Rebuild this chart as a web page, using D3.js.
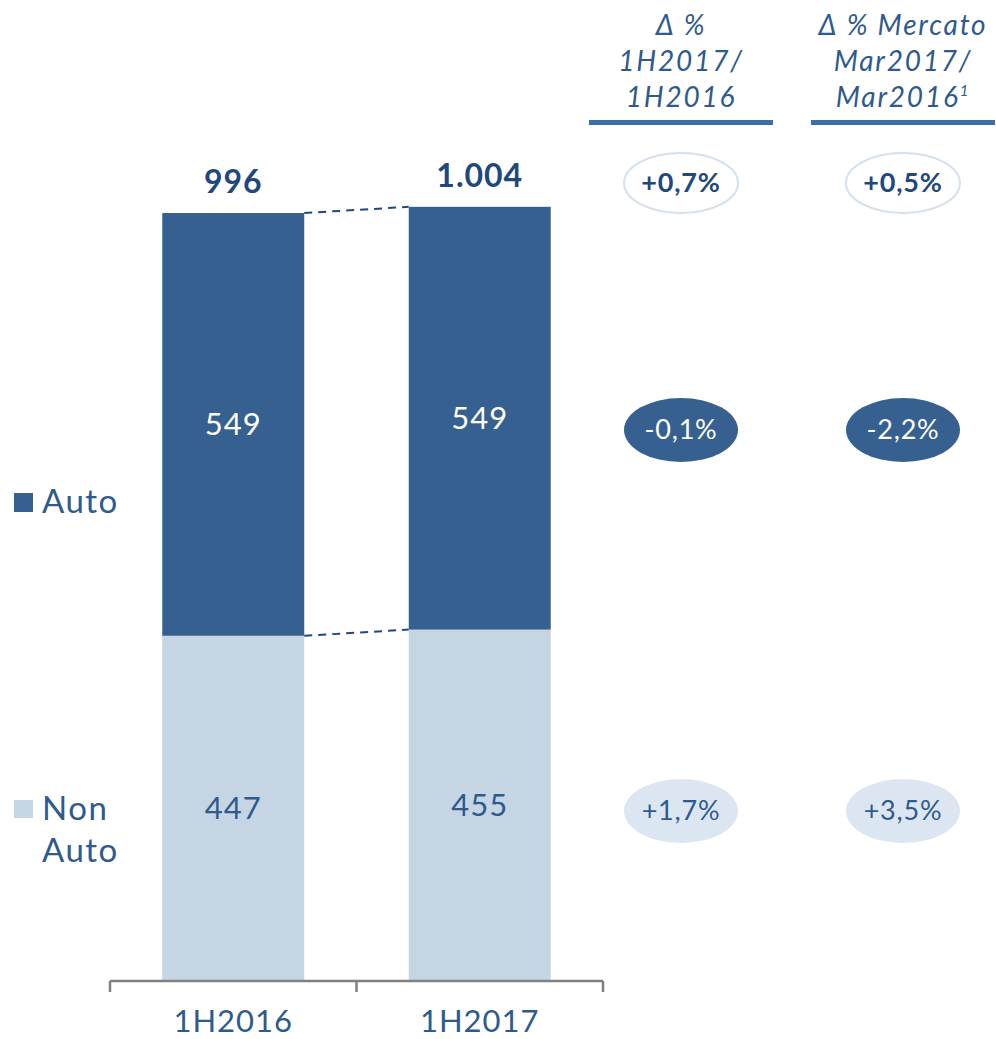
<!DOCTYPE html>
<html><head><meta charset="utf-8">
<script src="https://cdn.jsdelivr.net/npm/d3@7"></script>
<style>body{margin:0;background:#fff}svg{display:block}</style>
</head><body>
<svg id="c" width="996" height="1039"></svg>
<script>
const categories = ["1H2016", "1H2017"];
const autoValues = [549, 549];
const nonAutoValues = [447, 455];
const totalLabels = ["996", "1.004"];
const seriesNames = ["Auto", "Non Auto"];
const headers = [["Δ %", "1H2017/", "1H2016"], ["Δ % Mercato", "Mar2017/", "Mar2016"]];
const deltaTotal = ["+0,7%", "+0,5%"];
const deltaAuto = ["-0,1%", "-2,2%"];
const deltaNonAuto = ["+1,7%", "+3,5%"];

const FONT = "Lato, 'Open Sans', sans-serif";
const DARK = "#36608f", LIGHT = "#c6d5e4", NAVY = "#1f497d", TXT = "#2f5a8c";
const svg = d3.select("#c");

const x = d3.scaleBand().domain(categories).range([110, 603]).paddingInner(0.424).paddingOuter(0.212);
const y = d3.scaleLinear().domain([0, 996]).range([980, 213]);

const data = categories.map((c, i) => ({c, auto: autoValues[i], non: nonAutoValues[i], total: autoValues[i] + nonAutoValues[i], label: totalLabels[i]}));

// bars
const g = svg.append("g");
g.selectAll("rect.non").data(data).join("rect")
  .attr("x", d => x(d.c)).attr("width", x.bandwidth())
  .attr("y", d => y(d.non)).attr("height", d => y(0) - y(d.non)).attr("fill", LIGHT);
g.selectAll("rect.auto").data(data).join("rect")
  .attr("x", d => x(d.c)).attr("width", x.bandwidth())
  .attr("y", d => y(d.total)).attr("height", d => y(d.non) - y(d.total)).attr("fill", DARK);

// connectors
[d => d.total, d => d.non].forEach(acc => {
  g.append("line")
    .attr("x1", x(categories[0]) + x.bandwidth()).attr("y1", y(acc(data[0])))
    .attr("x2", x(categories[1])).attr("y2", y(acc(data[1])))
    .attr("stroke", NAVY).attr("stroke-width", 2).attr("stroke-dasharray", "8,6");
});

// labels
g.selectAll("text.tot").data(data).join("text")
  .attr("x", d => x(d.c) + x.bandwidth() / 2).attr("y", d => y(d.total) - 20)
  .attr("text-anchor", "middle").attr("font-family", FONT).attr("font-weight", "bold")
  .attr("font-size", 32).attr("letter-spacing", 1).attr("fill", NAVY).text(d => d.label);
g.selectAll("text.a").data(data).join("text")
  .attr("x", d => x(d.c) + x.bandwidth() / 2).attr("y", d => (y(d.total) + y(d.non)) / 2)
  .attr("dy", "0.35em").attr("text-anchor", "middle").attr("font-family", FONT)
  .attr("font-size", 31).attr("letter-spacing", 1).attr("fill", "#fff").text(d => d.auto);
g.selectAll("text.n").data(data).join("text")
  .attr("x", d => x(d.c) + x.bandwidth() / 2).attr("y", d => (y(d.non) + y(0)) / 2)
  .attr("dy", "0.35em").attr("text-anchor", "middle").attr("font-family", FONT)
  .attr("font-size", 31).attr("letter-spacing", 1).attr("fill", TXT).text(d => d.non);

// axis
const ax = svg.append("g").attr("stroke", "#808080").attr("stroke-width", 2.5).attr("fill", "none");
ax.append("line").attr("x1", 110).attr("x2", 603).attr("y1", 981).attr("y2", 981);
const tickXs = [110, x(categories[1]) - x.step() * x.paddingInner() / 2, 603];
tickXs.forEach(t => ax.append("line").attr("x1", t).attr("x2", t).attr("y1", 981).attr("y2", 992));
svg.selectAll("text.cat").data(categories).join("text")
  .attr("x", d => x(d) + x.bandwidth() / 2).attr("y", 1032).attr("text-anchor", "middle")
  .attr("font-family", FONT).attr("font-size", 31).attr("letter-spacing", 1).attr("fill", TXT).text(d => d);

// legend
svg.append("rect").attr("x", 14).attr("y", 493).attr("width", 19).attr("height", 19).attr("fill", DARK);
svg.append("text").attr("x", 42).attr("y", 513).attr("font-family", FONT).attr("font-size", 33).attr("letter-spacing", 1.5).attr("fill", TXT).text(seriesNames[0]);
svg.append("rect").attr("x", 14).attr("y", 800).attr("width", 19).attr("height", 18).attr("fill", LIGHT);
const nt = svg.append("text").attr("font-family", FONT).attr("font-size", 33).attr("letter-spacing", 1.5).attr("fill", TXT);
seriesNames[1].split(" ").forEach((w, i) => nt.append("tspan").attr("x", 42).attr("y", 820 + i * 42).text(w));

// right columns
const colX = [681, 903];
headers.forEach((lines, i) => {
  const t = svg.append("text").attr("text-anchor", "middle").attr("font-family", FONT)
    .attr("font-style", "italic").attr("font-size", 28).attr("letter-spacing", 1.8).attr("fill", TXT);
  lines.forEach((l, j) => {
    t.append("tspan").attr("x", colX[i]).attr("y", 35 + j * 36).text(l);
    if (i === 1 && j === 2) t.append("tspan").attr("font-size", 15).attr("dy", -11).text("1");
  });
  svg.append("rect").attr("x", colX[i] - 92).attr("y", 120).attr("width", 184).attr("height", 5).attr("fill", "#3a6ea5");
});

const rows = [
  {vals: deltaTotal, cy: 183, ry: 30, fill: "#fff", stroke: "#d5e0eb", color: NAVY, weight: "bold"},
  {vals: deltaAuto, cy: 430, ry: 32, fill: DARK, stroke: "none", color: "#fff", weight: "normal"},
  {vals: deltaNonAuto, cy: 811, ry: 32, fill: "#dce6f2", stroke: "none", color: TXT, weight: "normal"}
];
rows.forEach(r => {
  r.vals.forEach((v, i) => {
    svg.append("ellipse").attr("cx", colX[i]).attr("cy", r.cy).attr("rx", 57).attr("ry", r.ry)
      .attr("fill", r.fill).attr("stroke", r.stroke).attr("stroke-width", 2);
    svg.append("text").attr("x", colX[i]).attr("y", r.cy).attr("dy", "0.35em").attr("text-anchor", "middle")
      .attr("font-family", FONT).attr("font-weight", r.weight).attr("font-size", 27).attr("letter-spacing", 0.8)
      .attr("fill", r.color).text(v);
  });
});
</script>
</body></html>
